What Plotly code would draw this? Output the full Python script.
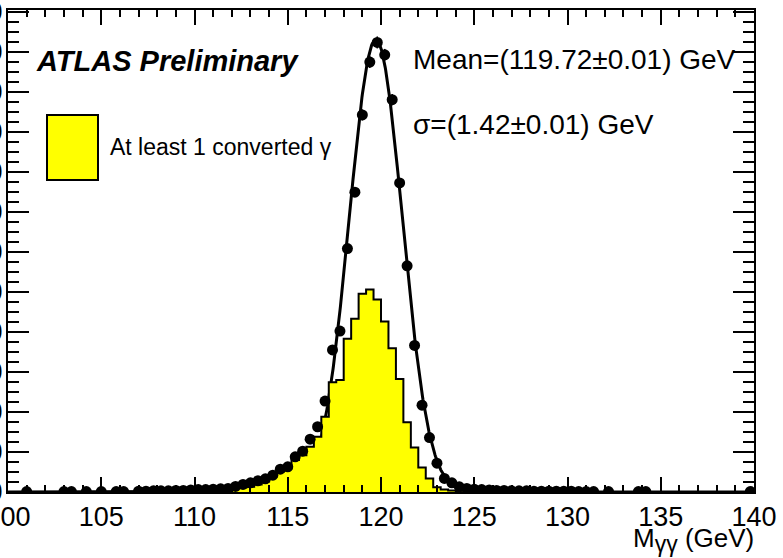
import numpy as np
import plotly.graph_objects as go

# Binning: 100 bins of 0.4 GeV between 100 and 140 GeV
bin_lo, bin_hi, bin_w = 100.0, 140.0, 0.4
edges = np.round(np.arange(bin_lo, bin_hi + bin_w / 2, bin_w), 2)
centers = np.round(edges[:-1] + bin_w / 2, 2)

# All selected diphoton events per bin (None = empty bin, not drawn)
all_counts = [
    None, None, 1, None, None, None, None, 1, 1, None,      # 100.2 - 103.8
    1, None, 1, None, 1, 1, None, 2, 2, 3,                  # 104.2 - 107.8
    3, 3, 4, 4, 5, 6, 6, 7, 8, 9,                           # 108.2 - 111.8
    14, 19, 23, 28, 33, 42, 57, 63, 88, 102,                # 112.2 - 115.8
    132, 163, 227, 355, 402, 608, 749, 942, 1074, 1123,     # 116.2 - 119.8
    1092, 980, 772, 565, 366, 217, 136, 72, 34, 23,         # 120.2 - 123.8
    13, 9, 7, 6, 5, 4, 4, 3, 3, 3,                          # 124.2 - 127.8
    2, 2, 2, 2, 2, 2, 1, 1, 1, None,                        # 128.2 - 131.8
    1, None, None, None, 1, 1, None, None, None, None,      # 132.2 - 135.8
    None, None, None, None, None, None, None, None, None, 1, # 136.2 - 139.8
]

# Events with at least one converted photon per bin
conv_counts = [
    0, 0, 0, 0, 0, 0, 0, 0, 0, 0,
    0, 0, 0, 0, 0, 0, 0, 0, 0, 0,
    0, 1, 1, 1, 2, 2, 2, 3, 4, 7,
    10, 12, 13, 19, 26, 38, 51, 59, 80, 92,
    113, 138, 188, 274, 280, 383, 433, 495, 506, 481,
    426, 359, 282, 174, 111, 61, 34, 12, 6, 4,
    3, 3, 2, 2, 2, 1, 1, 1, 1, 0,
    0, 0, 0, 0, 0, 0, 0, 0, 0, 0,
    0, 0, 0, 0, 0, 0, 0, 0, 0, 0,
    0, 0, 0, 0, 0, 0, 0, 0, 0, 0,
]

# Gaussian fit result
fit_mean, fit_sigma, fit_amp = 119.72, 1.42, 1130.0
event_weight = 0.2  # per-event MC weight, sets the statistical error bars

y_tick_vals = list(range(0, 1300, 100))
y_tick_text = [str(v) for v in y_tick_vals]
x_tick_vals = [100, 105, 110, 115, 120, 125, 130, 135, 140]
x_tick_text = [str(v) for v in x_tick_vals]

FONT = "Liberation Sans, Arial, Helvetica, sans-serif"
W, H = 783, 558
ML, MR, MT, MB = 8, 29, 10, 66
PW, PH = W - ML - MR, H - MT - MB


def px(xp):
    return (xp - ML) / PW


def py(yp):
    return (H - MB - yp) / PH


fig = go.Figure()

# Fitted Gaussian
xf = np.linspace(bin_lo, bin_hi, 1601)
yf = fit_amp * np.exp(-0.5 * ((xf - fit_mean) / fit_sigma) ** 2)
fig.add_trace(go.Scatter(
    x=xf, y=yf, mode="lines",
    line=dict(color="black", width=3),
    hoverinfo="skip", showlegend=False,
))

# Converted-photon histogram (step outline, yellow fill)
hx = edges
hy = list(conv_counts) + [conv_counts[-1]]
fig.add_trace(go.Scatter(
    x=hx, y=hy, mode="lines", line_shape="hv",
    line=dict(color="black", width=2),
    fill="tozeroy", fillcolor="#ffff00",
    showlegend=False,
))

# Data points with statistical errors
pts_x = [c for c, v in zip(centers, all_counts) if v is not None]
pts_y = [v for v in all_counts if v is not None]
pts_e = [float(np.sqrt(v * event_weight)) for v in pts_y]
fig.add_trace(go.Scatter(
    x=pts_x, y=pts_y, mode="markers",
    marker=dict(color="black", size=11),
    error_y=dict(type="data", array=pts_e, visible=True,
                 color="black", thickness=1.5, width=0),
    showlegend=False,
))

axis_common = dict(
    showline=True, linecolor="black", linewidth=2, mirror="allticks",
    ticks="inside", tickcolor="black", showgrid=False, zeroline=False,
    tickfont=dict(family=FONT, size=27, color="black"),
    ticklabeloverflow="allow",
    automargin=False,
)

fig.update_xaxes(
    range=[bin_lo, bin_hi], tickmode="array",
    tickvals=x_tick_vals, ticktext=x_tick_text,
    ticklen=15, tickwidth=1.5,
    minor=dict(ticks="inside", dtick=1, tick0=100, ticklen=7,
               tickcolor="black", tickwidth=1.5, showgrid=False),
    **axis_common,
)
fig.update_yaxes(
    range=[0, 1204], tickmode="array",
    tickvals=y_tick_vals, ticktext=y_tick_text,
    ticklen=21, tickwidth=1.5, ticklabelstandoff=-2,
    minor=dict(ticks="inside", dtick=25, tick0=0, ticklen=11,
               tickcolor="black", tickwidth=1.5, showgrid=False),
    **axis_common,
)

# Legend box
fig.add_shape(
    type="rect", xref="paper", yref="paper",
    x0=px(47), x1=px(98), y0=py(180), y1=py(115),
    fillcolor="#ffff00", line=dict(color="black", width=2),
)

annotations = [
    dict(text="<b><i>ATLAS Preliminary</i></b>", x=px(34), y=py(61),
         xanchor="left", yanchor="middle", font=dict(size=29)),
    dict(text="Mean=(119.72±0.01) GeV", x=px(411), y=py(60),
         xanchor="left", yanchor="middle", font=dict(size=28)),
    dict(text="σ=(1.42±0.01) GeV", x=px(411), y=py(124),
         xanchor="left", yanchor="middle", font=dict(size=28)),
    dict(text="At least 1 converted γ", x=px(108), y=py(147),
         xanchor="left", yanchor="middle", font=dict(size=23)),
    dict(text="M<sub><span style='font-size:23px'>γγ</span></sub> (GeV)",
         x=px(756), y=py(540),
         xanchor="right", yanchor="middle", font=dict(size=26)),
]
for a in annotations:
    a["font"].update(family=FONT, color="black")
    fig.add_annotation(xref="paper", yref="paper", showarrow=False, **a)

fig.update_layout(
    width=W, height=H,
    margin=dict(l=ML, r=MR, t=MT, b=MB, pad=0),
    paper_bgcolor="white", plot_bgcolor="white",
    template=None, showlegend=False,
)

fig.write_html("out.html")
